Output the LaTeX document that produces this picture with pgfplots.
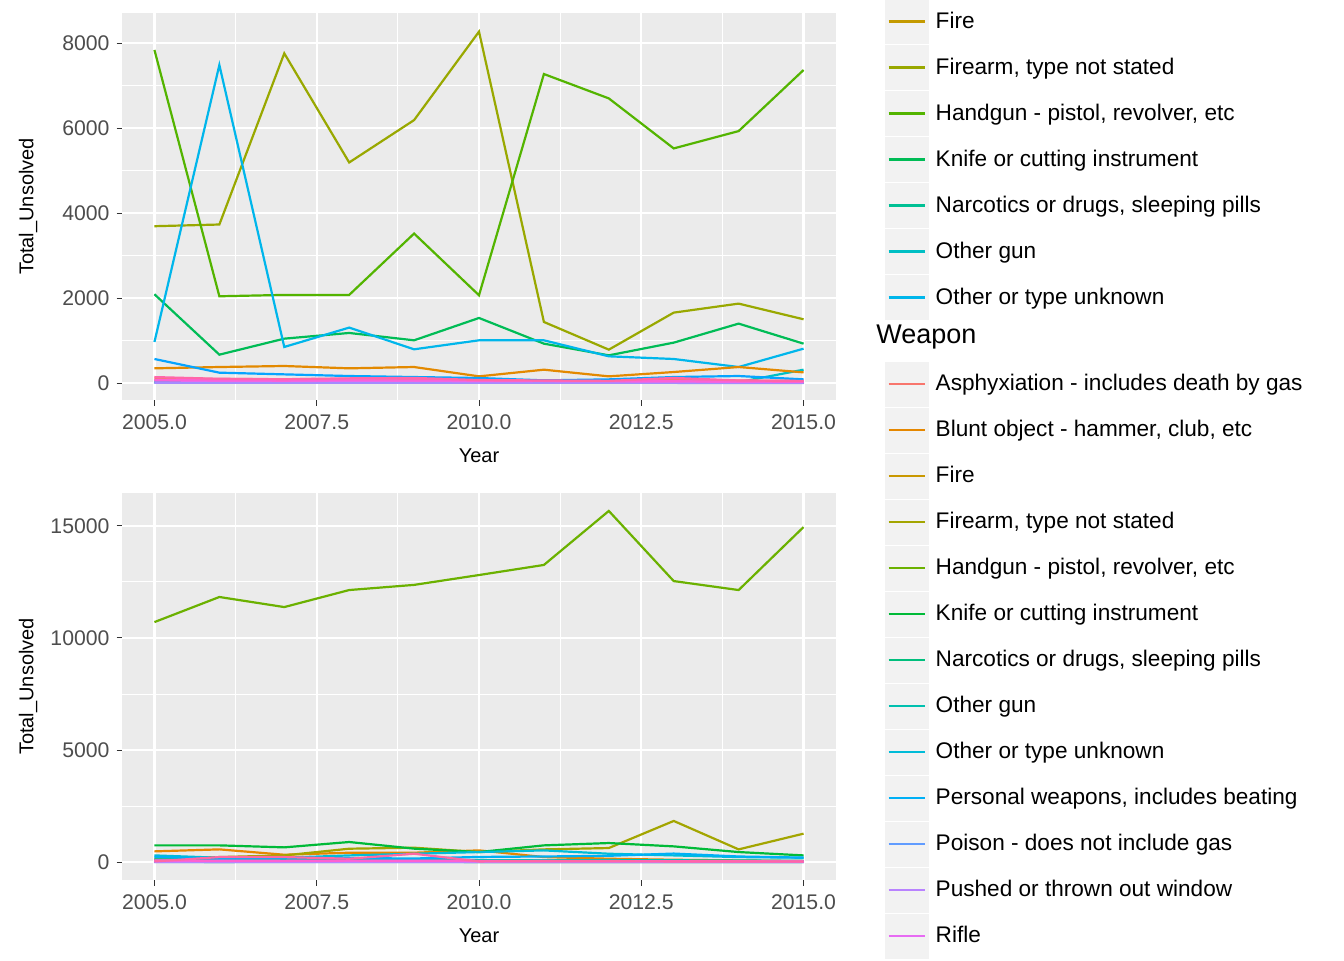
\documentclass[border=0pt]{standalone}
\usepackage{pgfplots}
\pgfplotsset{compat=1.18}
\usepackage{fontspec}
\setmainfont{Liberation Sans}
% top palette (14)
\definecolor{tA}{HTML}{F8766D}\definecolor{tB}{HTML}{E38900}\definecolor{tC}{HTML}{C49A00}
\definecolor{tD}{HTML}{99A800}\definecolor{tE}{HTML}{53B400}\definecolor{tF}{HTML}{00BC56}
\definecolor{tG}{HTML}{00C094}\definecolor{tH}{HTML}{00BFC4}\definecolor{tI}{HTML}{00B6EB}
\definecolor{tJ}{HTML}{06A4FF}\definecolor{tK}{HTML}{A58AFF}\definecolor{tL}{HTML}{DF70F8}
\definecolor{tM}{HTML}{FB61D7}\definecolor{tN}{HTML}{FF66A8}
% bottom palette (15)
\definecolor{bA}{HTML}{F8766D}\definecolor{bB}{HTML}{E58700}\definecolor{bC}{HTML}{C99800}
\definecolor{bD}{HTML}{A3A500}\definecolor{bE}{HTML}{6BB100}\definecolor{bF}{HTML}{00BA38}
\definecolor{bG}{HTML}{00BF7D}\definecolor{bH}{HTML}{00C0AF}\definecolor{bI}{HTML}{00BCD8}
\definecolor{bJ}{HTML}{00B0F6}\definecolor{bK}{HTML}{619CFF}\definecolor{bL}{HTML}{B983FF}
\definecolor{bM}{HTML}{E76BF3}\definecolor{bN}{HTML}{FD61D1}\definecolor{bO}{HTML}{FF67A4}
\definecolor{panel}{HTML}{EBEBEB}\definecolor{legbg}{HTML}{F2F2F2}
\definecolor{tickc}{HTML}{4D4D4D}\definecolor{tickm}{HTML}{333333}
\pgfplotsset{
  gg/.style={
    scale only axis, width=357pt, height=193.5pt,
    xmin=2004.5, xmax=2015.5,
    clip mode=individual,
    scaled y ticks=false, scaled x ticks=false,
    axis line style={draw=none},
    axis background/.style={fill=panel},
    grid=both,
    major grid style={white, line width=1.1pt},
    minor grid style={white, line width=0.5pt},
    xtick={2005,2007.5,2010,2012.5,2015},
    xticklabels={2005.0,2007.5,2010.0,2012.5,2015.0},
    minor xtick={2006.25,2008.75,2011.25,2013.75},
    tick align=outside, xtick pos=bottom, ytick pos=left,
    major tick length=2.75pt, minor tick length=0pt,
    tick style={tickm, line width=0.5pt},
    ticklabel style={font=\fontsize{10.6}{12}\selectfont, text=tickc},
    xticklabel style={yshift=-1pt},
    /pgf/number format/assume math mode=true,
    xlabel={Year}, ylabel={Total\_Unsolved},
    label style={font=\fontsize{13.5}{15}\selectfont},
    every axis x label/.style={at={(rel axis cs:0.5,0)}, anchor=center, yshift=-28pt},
    every axis y label/.style={at={(rel axis cs:0,0.5)}, rotate=90, anchor=center, yshift=47pt},
    every axis plot/.append style={line width=1.1pt, no markers},
    legend cell align=left,
    legend image code/.code={\fill[legbg] (0pt,-10.75pt) rectangle (21pt,10.75pt); \draw[##1, line width=1.2pt] (1.5pt,0pt) -- (19.5pt,0pt);},
    legend style={draw=none, fill=none, anchor=north west, row sep=0pt, column sep=3.5pt,
      nodes={inner sep=0pt, minimum height=23pt, anchor=west, font=\fontsize{11.3}{12}\selectfont}},
  }
}
\begin{document}
\begin{tikzpicture}
\begin{axis}[gg, at={(61pt,-6.5pt)}, anchor=north west,
  ymin=-400, ymax=8714,
  ytick={0,2000,4000,6000,8000}, yticklabels={0,2000,4000,6000,8000},
  minor ytick={1000,3000,5000,7000},
  legend style={at={(1.059,1.049)}}]
\addplot[tC] coordinates {(2005,60)(2006,50)(2007,55)(2008,60)(2009,40)(2010,45)(2011,40)(2012,35)(2013,30)(2014,25)(2015,20)};
\addplot[tD] coordinates {(2005,3693)(2006,3733)(2007,7764)(2008,5194)(2009,6192)(2010,8275)(2011,1438)(2012,786)(2013,1658)(2014,1870)(2015,1501)};
\addplot[tE] coordinates {(2005,7843)(2006,2043)(2007,2075)(2008,2075)(2009,3520)(2010,2067)(2011,7277)(2012,6703)(2013,5525)(2014,5933)(2015,7371)};
\addplot[tF] coordinates {(2005,2090)(2006,668)(2007,1045)(2008,1179)(2009,1006)(2010,1532)(2011,927)(2012,652)(2013,951)(2014,1399)(2015,927)};
\addplot[tG] coordinates {(2005,10)(2006,8)(2007,10)(2008,12)(2009,10)(2010,8)(2011,6)(2012,8)(2013,6)(2014,5)(2015,5)};
\addplot[tH] coordinates {(2005,30)(2006,25)(2007,30)(2008,25)(2009,20)(2010,25)(2011,20)(2012,30)(2013,25)(2014,20)(2015,314)};
\addplot[tI] coordinates {(2005,967)(2006,7489)(2007,849)(2008,1305)(2009,794)(2010,1006)(2011,1006)(2012,629)(2013,566)(2014,377)(2015,809)};
\legend{Fire, {Firearm, type not stated}, {Handgun - pistol, revolver, etc}, Knife or cutting instrument, {Narcotics or drugs, sleeping pills}, Other gun, Other or type unknown}
\addplot[tA] coordinates {(2005,110)(2006,95)(2007,90)(2008,100)(2009,95)(2010,80)(2011,60)(2012,50)(2013,70)(2014,60)(2015,50)};
\addplot[tB] coordinates {(2005,346)(2006,377)(2007,401)(2008,346)(2009,377)(2010,157)(2011,314)(2012,157)(2013,259)(2014,377)(2015,251)};
\addplot[tJ] coordinates {(2005,566)(2006,244)(2007,204)(2008,165)(2009,141)(2010,118)(2011,63)(2012,86)(2013,141)(2014,165)(2015,86)};
\addplot[tK] coordinates {(2005,5)(2006,5)(2007,4)(2008,5)(2009,4)(2010,3)(2011,4)(2012,3)(2013,3)(2014,2)(2015,2)};
\addplot[tL] coordinates {(2005,60)(2006,50)(2007,45)(2008,55)(2009,50)(2010,40)(2011,45)(2012,40)(2013,35)(2014,30)(2015,25)};
\addplot[tM] coordinates {(2005,70)(2006,60)(2007,55)(2008,65)(2009,60)(2010,55)(2011,50)(2012,45)(2013,40)(2014,35)(2015,30)};
\addplot[tN] coordinates {(2005,140)(2006,100)(2007,90)(2008,110)(2009,120)(2010,70)(2011,60)(2012,50)(2013,120)(2014,60)(2015,50)};
\end{axis}
\begin{axis}[gg, at={(61pt,-246.5pt)}, anchor=north west,
  ymin=-800, ymax=16470,
  ytick={0,5000,10000,15000}, yticklabels={0,5000,10000,15000},
  minor ytick={2500,7500,12500},
  legend style={at={(1.059,1.352)}}]
\addplot[bA] coordinates {(2005,30)(2006,40)(2007,35)(2008,30)(2009,40)(2010,30)(2011,25)(2012,30)(2013,25)(2014,20)(2015,20)};
\addplot[bB] coordinates {(2005,478)(2006,567)(2007,328)(2008,418)(2009,418)(2010,522)(2011,224)(2012,150)(2013,104)(2014,75)(2015,45)};
\addplot[bC] coordinates {(2005,80)(2006,70)(2007,90)(2008,80)(2009,70)(2010,60)(2011,50)(2012,60)(2013,50)(2014,40)(2015,40)};
\addplot[bD] coordinates {(2005,150)(2006,224)(2007,298)(2008,597)(2009,642)(2010,448)(2011,567)(2012,627)(2013,1836)(2014,567)(2015,1269)};
\addplot[bE] coordinates {(2005,10710)(2006,11830)(2007,11380)(2008,12140)(2009,12370)(2010,12810)(2011,13260)(2012,15670)(2013,12540)(2014,12140)(2015,14950)};
\addplot[bF] coordinates {(2005,746)(2006,746)(2007,657)(2008,896)(2009,600)(2010,448)(2011,746)(2012,850)(2013,701)(2014,448)(2015,298)};
\addplot[bG] coordinates {(2005,10)(2006,8)(2007,10)(2008,12)(2009,10)(2010,8)(2011,6)(2012,8)(2013,6)(2014,5)(2015,5)};
\addplot[bH] coordinates {(2005,120)(2006,110)(2007,100)(2008,110)(2009,100)(2010,90)(2011,80)(2012,90)(2013,80)(2014,70)(2015,60)};
\addplot[bI] coordinates {(2005,298)(2006,194)(2007,194)(2008,298)(2009,373)(2010,448)(2011,522)(2012,373)(2013,298)(2014,224)(2015,194)};
\addplot[bJ] coordinates {(2005,230)(2006,150)(2007,200)(2008,180)(2009,160)(2010,230)(2011,250)(2012,280)(2013,380)(2014,250)(2015,200)};
\addplot[bK] coordinates {(2005,5)(2006,5)(2007,4)(2008,5)(2009,4)(2010,3)(2011,4)(2012,3)(2013,3)(2014,2)(2015,2)};
\addplot[bL] coordinates {(2005,6)(2006,5)(2007,5)(2008,6)(2009,5)(2010,4)(2011,5)(2012,4)(2013,4)(2014,3)(2015,3)};
\addplot[bM] coordinates {(2005,60)(2006,50)(2007,45)(2008,55)(2009,50)(2010,40)(2011,45)(2012,40)(2013,35)(2014,30)(2015,25)};
\legend{Asphyxiation - includes death by gas, {Blunt object - hammer, club, etc}, Fire, {Firearm, type not stated}, {Handgun - pistol, revolver, etc}, Knife or cutting instrument, {Narcotics or drugs, sleeping pills}, Other gun, Other or type unknown, {Personal weapons, includes beating}, Poison - does not include gas, Pushed or thrown out window, Rifle}
\addplot[bN] coordinates {(2005,70)(2006,60)(2007,55)(2008,65)(2009,60)(2010,55)(2011,50)(2012,45)(2013,40)(2014,35)(2015,30)};
\addplot[bO] coordinates {(2005,30)(2006,224)(2007,224)(2008,150)(2009,373)(2010,30)(2011,40)(2012,35)(2013,30)(2014,30)(2015,30)};
\node[anchor=west, inner sep=0pt, font=\fontsize{13.5}{15}\selectfont] at (rel axis cs:1.056,1.403) {Weapon};
\end{axis}
\pgfresetboundingbox
\path (0pt,0pt) rectangle (672pt,-480pt);
\end{tikzpicture}
\end{document}
